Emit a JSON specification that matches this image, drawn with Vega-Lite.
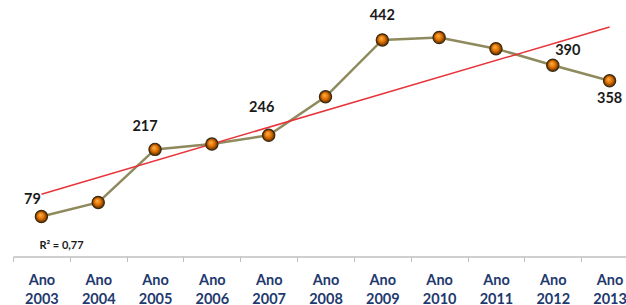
{
  "$schema": "https://vega.github.io/schema/vega-lite/v6.json",
  "autosize": "none",
  "width": 625,
  "height": 255,
  "padding": {"left": 13, "top": 0, "right": 0, "bottom": 50},
  "background": "white",
  "config": {"view": {"stroke": null}},
  "data": {
    "values": [
      {"year": 2003, "value": 79},
      {"year": 2004, "value": 108},
      {"year": 2005, "value": 217},
      {"year": 2006, "value": 228},
      {"year": 2007, "value": 246},
      {"year": 2008, "value": 325},
      {"year": 2009, "value": 442},
      {"year": 2010, "value": 447},
      {"year": 2011, "value": 424},
      {"year": 2012, "value": 390},
      {"year": 2013, "value": 358}
    ]
  },
  "encoding": {
    "x": {
      "field": "year",
      "type": "ordinal",
      "bandPosition": 0.5,
      "scale": {"type": "band", "paddingInner": 0, "paddingOuter": 0},
      "axis": {
        "title": null,
        "labelAngle": 0,
        "labelExpr": "datum.label ? ['Ano', datum.label] : ''",
        "labelFont": "Lato",
        "labelFontWeight": "bold",
        "labelFontSize": 14.5,
        "labelColor": "#1f3a6e",
        "labelLineHeight": 19,
        "labelPadding": 12,
        "tickBand": "extent",
        "tickSize": 5,
        "tickColor": "#bfbfbf",
        "domainColor": "#bfbfbf",
        "domainWidth": 1.5,
        "offset": 1.5
      }
    },
    "y": {
      "field": "value",
      "type": "quantitative",
      "scale": {"domain": [0, 524], "nice": false},
      "axis": null
    }
  },
  "layer": [
    {
      "mark": {"type": "line", "color": "#8f8a5e", "strokeWidth": 2.5}
    },
    {
      "transform": [{"regression": "value", "on": "year", "method": "linear"}],
      "mark": {"type": "line", "color": "#e8333a", "strokeWidth": 1.5}
    },
    {
      "mark": {
        "type": "point",
        "shape": "circle",
        "filled": true,
        "size": 150,
        "opacity": 1,
        "stroke": "#3a2a10",
        "strokeWidth": 1.2,
        "color": {
          "gradient": "radial",
          "x1": 0.4, "y1": 0.35, "r1": 0,
          "x2": 0.5, "y2": 0.5, "r2": 0.5,
          "stops": [
            {"offset": 0, "color": "#ffb450"},
            {"offset": 0.55, "color": "#e07000"},
            {"offset": 1, "color": "#5a2c00"}
          ]
        }
      }
    },
    {
      "transform": [{"filter": "datum.year == 2003"}],
      "mark": {"type": "text", "font": "Lato", "fontWeight": "bold", "fontSize": 14.5, "color": "#1a1a1a", "dx": -9, "dy": -17},
      "encoding": {"text": {"field": "value"}}
    },
    {
      "transform": [{"filter": "datum.year == 2005"}],
      "mark": {"type": "text", "font": "Lato", "fontWeight": "bold", "fontSize": 14.5, "color": "#1a1a1a", "dx": -10, "dy": -22},
      "encoding": {"text": {"field": "value"}}
    },
    {
      "transform": [{"filter": "datum.year == 2007"}],
      "mark": {"type": "text", "font": "Lato", "fontWeight": "bold", "fontSize": 14.5, "color": "#1a1a1a", "dx": -7, "dy": -27},
      "encoding": {"text": {"field": "value"}}
    },
    {
      "transform": [{"filter": "datum.year == 2009"}],
      "mark": {"type": "text", "font": "Lato", "fontWeight": "bold", "fontSize": 14.5, "color": "#1a1a1a", "dx": 0, "dy": -24},
      "encoding": {"text": {"field": "value"}}
    },
    {
      "transform": [{"filter": "datum.year == 2012"}],
      "mark": {"type": "text", "font": "Lato", "fontWeight": "bold", "fontSize": 14.5, "color": "#1a1a1a", "dx": 15, "dy": -14},
      "encoding": {"text": {"field": "value"}}
    },
    {
      "transform": [{"filter": "datum.year == 2013"}],
      "mark": {"type": "text", "font": "Lato", "fontWeight": "bold", "fontSize": 14.5, "color": "#1a1a1a", "dx": 0, "dy": 18},
      "encoding": {"text": {"field": "value"}}
    },
    {
      "data": {"values": [{"year": 2003, "value": 18, "label": "R² = 0,77"}]},
      "mark": {"type": "text", "font": "Lato", "fontWeight": "bold", "fontSize": 11, "color": "#1a1a1a", "align": "left", "dx": -2},
      "encoding": {"text": {"field": "label"}}
    }
  ]
}
